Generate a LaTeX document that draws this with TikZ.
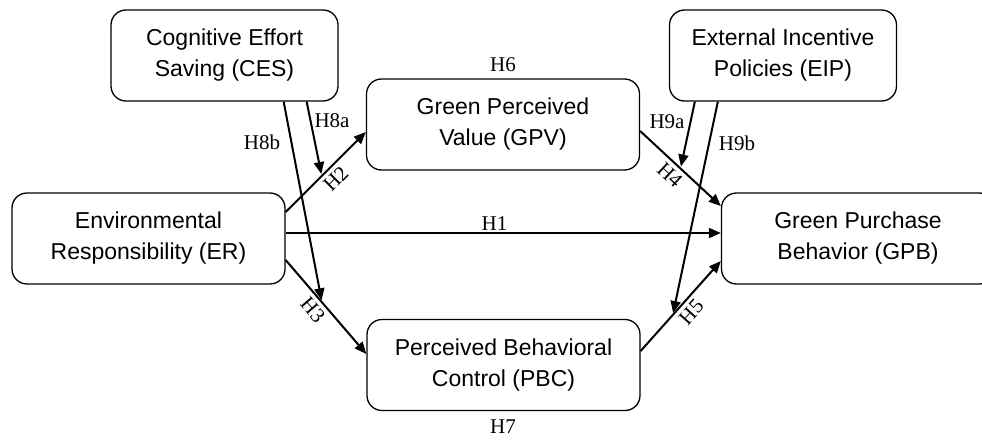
\documentclass[tikz,border=0pt]{standalone}
\usepackage{fontspec}
\setmainfont{Liberation Sans}
\newfontfamily\labelfont{Liberation Serif}
\usetikzlibrary{arrows.meta,calc}
\begin{document}
\begin{tikzpicture}[x=1pt,y=-1pt,
  box/.style={draw, line width=1.3pt, rounded corners=15pt, align=center,
    font=\fontsize{23}{31}\selectfont, minimum height=91pt, inner sep=0pt},
  wide/.style={box, minimum width=273pt},
  narrow/.style={box, minimum width=227pt},
  link/.style={line width=2pt, -{Triangle[length=12pt,width=10pt]}},
  hyp/.style={font=\labelfont\fontsize{21}{21}\selectfont, inner sep=2pt},
]
\useasboundingbox (0,0) rectangle (982,439);
\clip (0,0) rectangle (982,439);
% nodes
\node[narrow] (CES) at (224.5,55.5) {Cognitive Effort\\Saving (CES)};
\node[narrow] (EIP) at (783,55.5) {External Incentive\\Policies (EIP)};
\node[wide] (GPV) at (503,124.5) {Green Perceived\\Value (GPV)};
\node[wide] (ER) at (148.5,238.5) {Environmental\\Responsibility (ER)};
\node[wide] (PBC) at (503.5,365) {Perceived Behavioral\\Control (PBC)};
\node[wide] (GPB) at (858,238.5) {Green Purchase\\Behavior (GPB)};
% main paths
\draw[link] ($(ER.east)+(0,-5.5)$) -- ($(GPB.west)+(0,-5.5)$)
  node[hyp, pos=0.48, above] (h1) {H1};
\draw[link] ($(ER.east)+(0,-26.5)$) -- ($(GPV.west)+(0,7.5)$)
  coordinate[pos=0.45] (m2)
  node[hyp, sloped, below=2pt, pos=0.52] (h2) {H2};
\draw[link] ($(ER.east)+(0,21.5)$) -- ($(PBC.west)+(0,-11)$)
  coordinate[pos=0.45] (m3)
  node[hyp, sloped, below=2pt, pos=0.45] (h3) {H3};
\draw[link] ($(GPV.east)+(0,6.5)$) -- ($(GPB.west)+(0,-32.5)$)
  coordinate[pos=0.5] (m4)
  node[hyp, sloped, below=2pt, pos=0.47] (h4) {H4};
\draw[link] ($(PBC.east)+(0,-14)$) -- ($(GPB.west)+(0,22.5)$)
  coordinate[pos=0.4] (m5)
  node[hyp, sloped, below=2pt, pos=0.52] (h5) {H5};
% moderation paths
\draw[link, shorten >=2pt] ($(CES.south east)+(-32,0)$) -- (m2);
\draw[link, shorten >=2pt] ($(CES.south east)+(-55,0)$) -- (m3);
\draw[link, shorten >=2pt] ($(EIP.south west)+(26,0)$) -- (m4);
\draw[link, shorten >=2pt] ($(EIP.south west)+(49,0)$) -- (m5);
% labels
\node[hyp] (h8a) at (332,121) {H8a};
\node[hyp] (h8b) at (262,142) {H8b};
\node[hyp] (h9a) at (667,122) {H9a};
\node[hyp] (h9b) at (737,143) {H9b};
\node[hyp] (h6) at (503,65) {H6};
\node[hyp] (h7) at (503,427) {H7};
\end{tikzpicture}
\end{document}
